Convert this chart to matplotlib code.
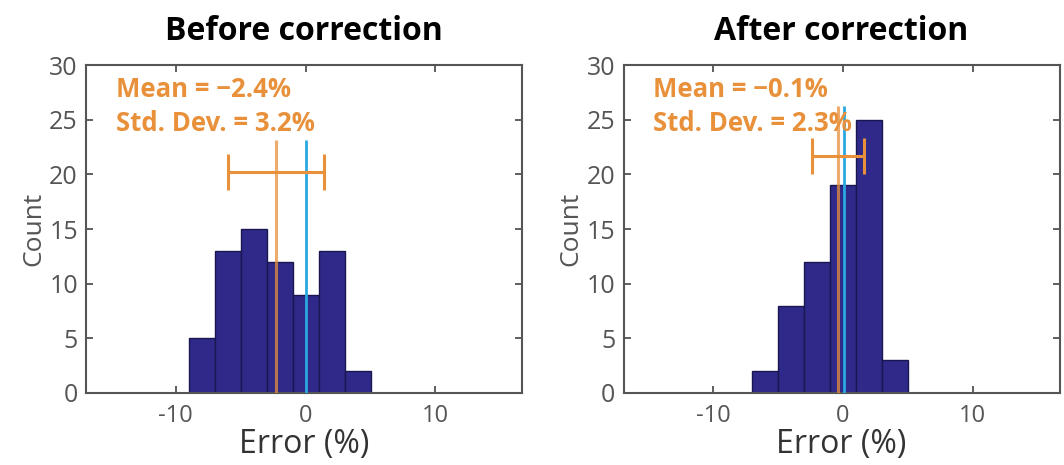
import matplotlib.pyplot as plt
import numpy as np

plt.rcParams['font.family'] = ['Open Sans', 'DejaVu Sans']
plt.rcParams['axes.unicode_minus'] = False

# histogram data
edges_before = [-9, -7, -5, -3, -1, 1, 3, 5]
counts_before = [5, 13, 15, 12, 9, 13, 2]
edges_after = [-7, -5, -3, -1, 1, 3, 5]
counts_after = [2, 8, 12, 19, 25, 3]

titles = ["Before correction", "After correction"]
mean_labels = ["Mean = \u22122.4%", "Mean = \u22120.1%"]
std_labels = ["Std. Dev. = 3.2%", "Std. Dev. = 2.3%"]

# mean marker, error bar half width, error bar height, line top (as drawn)
mean_pos = [-2.3, -0.4]
err_half = [3.7, 2.0]
err_y = [20.2, 21.7]
line_top = [23.1, 26.3]
ref_pos = [0.0, 0.05]

navy = "#2f2a8a"
orange = "#e8913a"
blue = "#2aa8e0"
gray = "#555555"

fig = plt.figure(figsize=(10.64, 4.65), dpi=100)
axes = [fig.add_axes([0.081, 0.155, 0.410, 0.705]),
        fig.add_axes([0.586, 0.155, 0.410, 0.705])]

data = [(edges_before, counts_before), (edges_after, counts_after)]

for i, ax in enumerate(axes):
    edges, counts = data[i]
    edges = np.array(edges, dtype=float)
    ax.bar(edges[:-1], counts, width=np.diff(edges), align="edge",
           color=navy, edgecolor="#1a1750", linewidth=1.0, zorder=2)
    ax.vlines(mean_pos[i], 0, line_top[i], color=orange, linewidth=2.2,
              alpha=0.75, zorder=3)
    ax.vlines(ref_pos[i], 0, line_top[i], color=blue, linewidth=2.0, zorder=3)
    ax.errorbar(mean_pos[i], err_y[i], xerr=err_half[i], fmt="none",
                ecolor=orange, elinewidth=2.2, capsize=13, capthick=2.2,
                zorder=4)
    ax.text(-14.6, 27.8, mean_labels[i], color=orange, fontsize=18.5,
            fontweight="bold", va="center", ha="left", zorder=5)
    ax.text(-14.6, 24.7, std_labels[i], color=orange, fontsize=18.5,
            fontweight="bold", va="center", ha="left", zorder=5)

    ax.set_xlim(-16.9, 16.7)
    ax.set_ylim(0, 30)
    ax.set_xticks([-10, 0, 10])
    ax.set_yticks(np.arange(0, 31, 5))
    ax.tick_params(direction="in", top=True, right=True, length=5,
                   width=1.2, colors="#444444", labelcolor=gray,
                   labelsize=18, pad=6)
    ax.tick_params(axis="x", labelsize=17, pad=8)
    for s in ax.spines.values():
        s.set_color("#555555")
        s.set_linewidth(1.5)
    ax.set_ylabel("Count", fontsize=19, color=gray, labelpad=2)
    ax.set_xlabel("Error (%)", fontsize=23, color="#333333", labelpad=0)
    ax.set_title(titles[i], fontsize=23, fontweight="bold", pad=18)

fig.savefig("out.png", dpi=100)
